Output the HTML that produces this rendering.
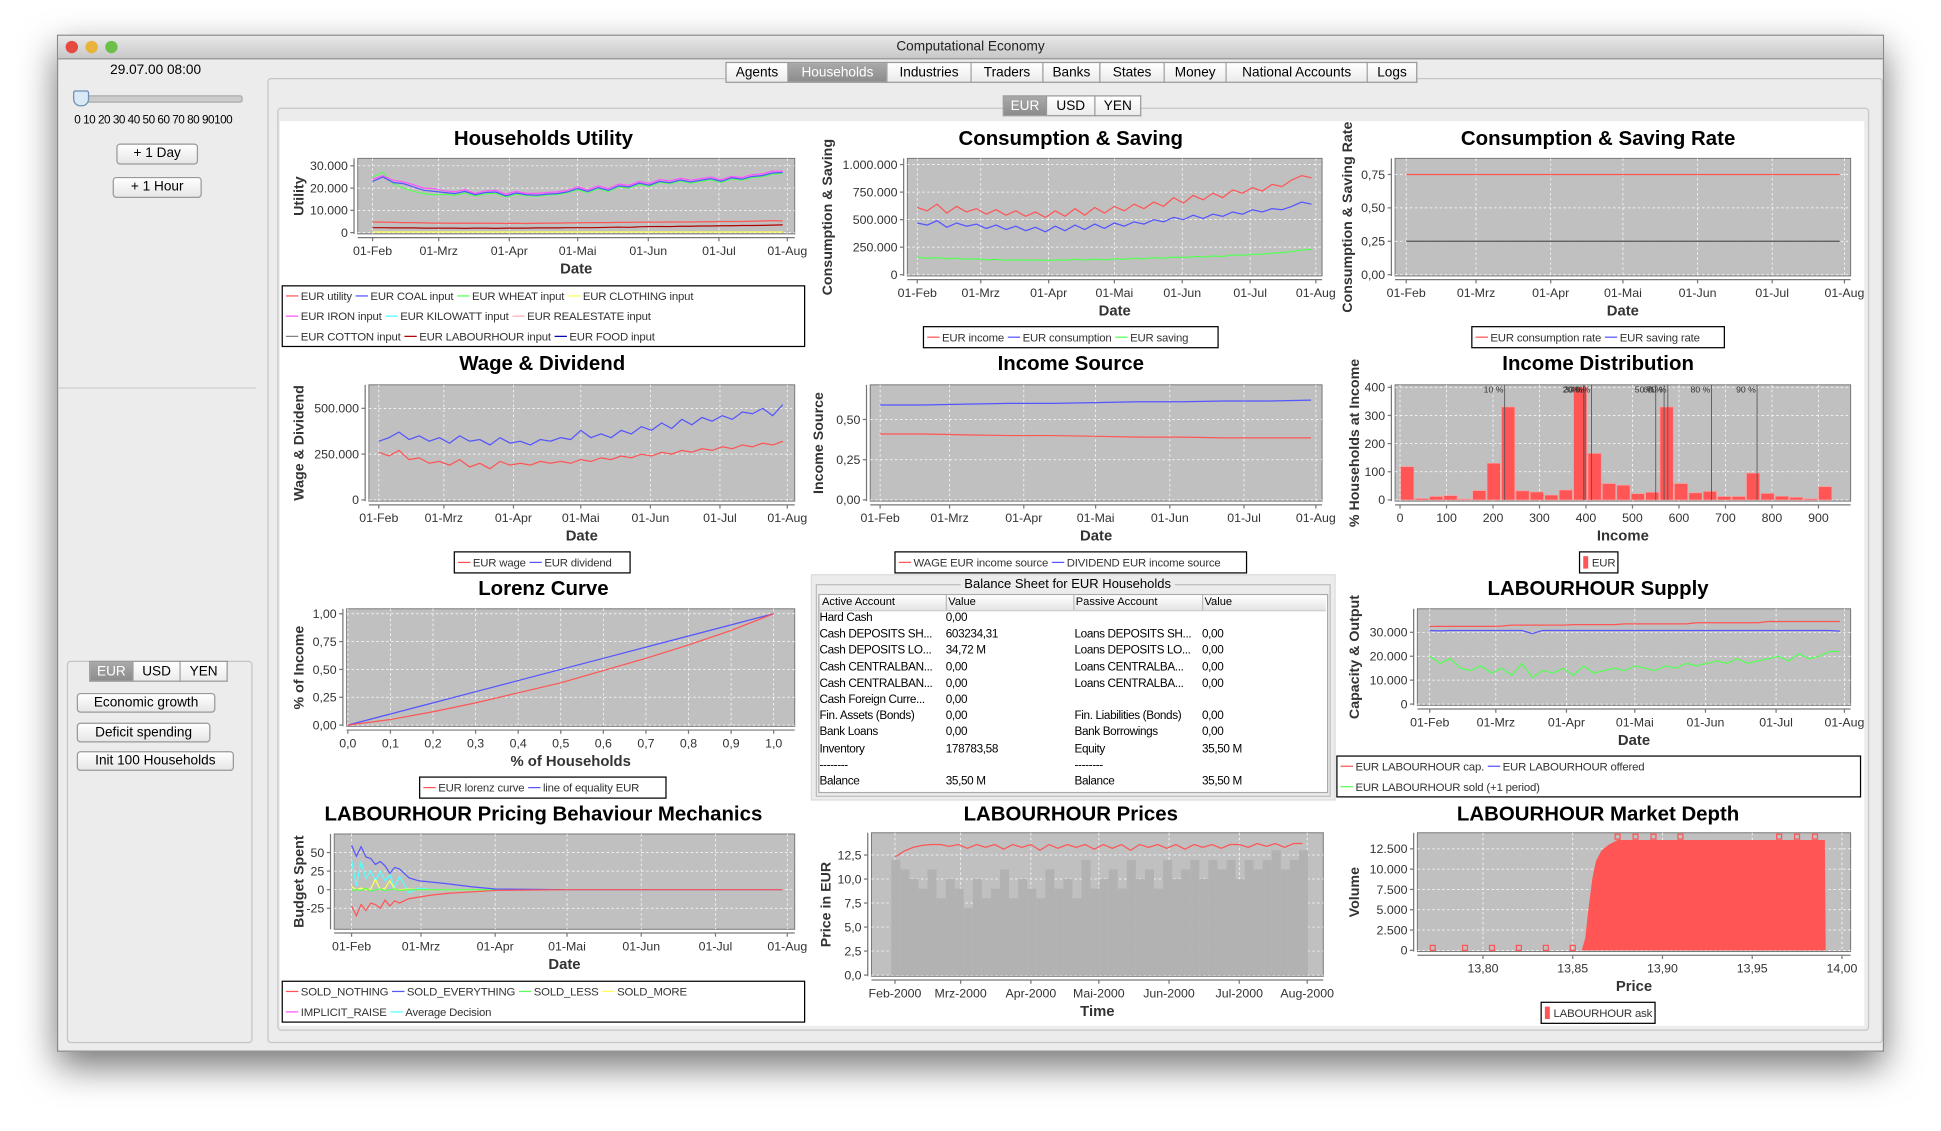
<!DOCTYPE html>
<html><head><meta charset="utf-8">
<style>
html,body{margin:0;padding:0;background:#fff;width:1941px;height:1131px;overflow:hidden;font-family:"Liberation Sans",sans-serif;}
#wrap{position:absolute;left:0;top:0;width:1568px;height:914px;transform:scale(1.23788,1.2374);transform-origin:0 0;}
.abs{position:absolute;}
#win{left:46px;top:28px;width:1476px;height:822px;background:#ececec;box-shadow:0 12px 28px rgba(0,0,0,.55);border:1px solid #8a8a8a;box-sizing:border-box;}
#titlebar{left:0;top:0;width:100%;height:18px;background:linear-gradient(#e8e8e8,#c8c8c8);border-bottom:1px solid #8f8f8f;font-size:11px;text-align:center;line-height:18px;color:#222;}
.dot{position:absolute;top:4px;width:10px;height:10px;border-radius:50%;}
.btn{position:absolute;background:linear-gradient(#fff,#e6e6e6);border:1px solid #999;border-radius:3px;font-size:11px;text-align:center;box-sizing:border-box;}
.tab{position:absolute;top:0;height:17px;border:1px solid #9a9a9a;border-left:none;background:linear-gradient(#fff,#ebebeb);font-size:11px;line-height:16px;text-align:center;box-sizing:border-box;}
.tab.sel{background:linear-gradient(#a9a9a9,#8c8c8c);color:#fff;}
.bs{font-size:9.5px;}
.bs div{position:absolute;white-space:nowrap;}
#bsrows div{overflow:hidden;width:100px;}
</style></head>
<body>
<div id="wrap">
<div id="win" class="abs">
 <div id="titlebar" class="abs">Computational Economy
  <div class="dot" style="left:6px;background:#e5493f"></div>
  <div class="dot" style="left:22px;background:#e8b33a"></div>
  <div class="dot" style="left:38px;background:#6cc04a"></div>
 </div>
 <div class="abs" style="left:42px;top:22px;font-size:11px">29.07.00 08:00</div>
 <div class="abs" style="left:16px;top:48px;width:131px;height:4px;background:#ccc;border:1px solid #aaa;border-radius:2px"></div>
 <div class="abs" style="left:12px;top:44px;width:11px;height:11px;background:#dbe8f5;border:1px solid #6b8fb8;border-radius:2px 2px 6px 6px"></div>
 <div class="abs" style="left:13px;top:63px;font-size:9.5px;letter-spacing:-0.4px">0 10 20 30 40 50 60 70 80 90100</div>
 <div class="btn" style="left:47px;top:87px;width:66px;height:17px;line-height:15px">+ 1 Day</div>
 <div class="btn" style="left:44px;top:114px;width:72px;height:17px;line-height:15px">+ 1 Hour</div>
 <div class="abs" style="left:0;top:284px;width:160px;height:1px;background:#cfcfcf"></div>
 <div class="abs" style="left:7px;top:505px;width:148px;height:307px;border:1px solid #c4c4c4;border-radius:3px"></div>
 <div class="abs" style="left:25px;top:505px;width:112px;height:16px">
  <div class="tab sel" style="left:0;width:36px;border-left:1px solid #9a9a9a">EUR</div>
  <div class="tab" style="left:36px;width:38px">USD</div>
  <div class="tab" style="left:74px;width:38px">YEN</div>
 </div>
 <div class="btn" style="left:15px;top:531px;width:112px;height:16px;line-height:14px">Economic growth</div>
 <div class="btn" style="left:15px;top:555px;width:108px;height:16px;line-height:14px">Deficit spending</div>
 <div class="btn" style="left:15px;top:578px;width:127px;height:16px;line-height:14px">Init 100 Households</div>
 <div class="abs" style="left:169px;top:34px;width:1303px;height:778px;border:1px solid #c6c6c6;border-radius:3px"></div>
 <div class="abs" style="left:539px;top:21px;width:560px;height:17px">
  <div class="tab" style="left:0;width:51px;border-left:1px solid #9a9a9a">Agents</div>
  <div class="tab sel" style="left:51px;width:80px">Households</div>
  <div class="tab" style="left:131px;width:68px">Industries</div>
  <div class="tab" style="left:199px;width:58px">Traders</div>
  <div class="tab" style="left:257px;width:46px">Banks</div>
  <div class="tab" style="left:303px;width:52px">States</div>
  <div class="tab" style="left:355px;width:50px">Money</div>
  <div class="tab" style="left:405px;width:114px">National Accounts</div>
  <div class="tab" style="left:519px;width:40px">Logs</div>
 </div>
 <div class="abs" style="left:177px;top:58px;width:1284px;height:744px;border:1px solid #c6c6c6;border-radius:3px"></div>
 <div class="abs" style="left:763px;top:48px;width:112px;height:16px">
  <div class="tab sel" style="left:0;width:36px;border-left:1px solid #9a9a9a">EUR</div>
  <div class="tab" style="left:36px;width:39px">USD</div>
  <div class="tab" style="left:75px;width:37px">YEN</div>
 </div>
 <div class="abs" style="left:179px;top:69px;width:1280px;height:731px;background:#fff"></div>
 <div class="abs bs" style="left:608px;top:435px;width:422px;height:181px;background:#ececec;border:1px solid #ddd">
  <div style="left:3px;top:7px;width:414px;height:170px;border:1px solid #bdbdbd"></div>
  <div style="left:120px;top:1px;background:#ececec;padding:0 3px;font-size:10.5px">Balance Sheet for EUR Households</div>
  <div style="left:5px;top:15px;width:410px;height:159px;background:#fff;border:1px solid #aaa"></div>
  <div style="left:6px;top:16px;width:409px;height:12px;background:linear-gradient(#fff,#e4e4e4);border-bottom:1px solid #ccc"></div>
  <div style="left:108px;top:16px;width:1px;height:12px;background:#bbb"></div>
  <div style="left:211px;top:16px;width:1px;height:12px;background:#bbb"></div>
  <div style="left:315px;top:16px;width:1px;height:12px;background:#bbb"></div>
  <div style="left:8px;top:16px;font-size:9px">Active Account</div>
  <div style="left:110px;top:16px;font-size:9px">Value</div>
  <div style="left:213px;top:16px;font-size:9px">Passive Account</div>
  <div style="left:317px;top:16px;font-size:9px">Value</div>
  <div id="bsrows"></div>
 </div>
</div>
<svg id="charts" class="abs" style="left:0;top:0" width="1568" height="914" font-family="Liberation Sans, sans-serif"></svg>
</div>
<script>
// ---------- data ----------
const dateTicks=[0,29,60,90,121,152,182];
const dateLabels=['01-Feb','01-Mrz','01-Apr','01-Mai','01-Jun','01-Jul','01-Aug'];
const utilCoal=[23,25,22.5,22,20.5,19,18.5,18,17.5,18.5,17,18,18.2,16.5,17.8,17,16.8,17.3,17.5,18.3,19.8,18.5,20.2,19,21,20.5,22.2,21.3,23,22.4,23.6,22.7,23.5,24.2,23,24.6,24,25.2,25.6,26.8,27];
const utilIron=[24,25.5,23.5,22.8,21.5,20,19.8,18.8,18.3,19.3,17.6,18.7,19,17.3,18.5,17.6,17.6,18,18.3,19,20.6,19.2,21,19.8,21.8,21.2,23,22,23.8,23.2,24.4,23.5,24.3,25,23.8,25.3,24.8,26,26.4,27.6,27.6];
const utilWheat=[25,27,22,20,18.5,17.5,17,17.2,16.8,17.8,16.5,17.4,17.6,16,17.2,16.6,16.4,16.9,17.1,17.9,19.2,18,19.7,18.5,20.5,20,21.6,20.8,22.5,22,23.1,22.2,23,23.7,22.5,24.1,23.5,24.7,25.1,26.3,26.5];
const utilTotal=[4.8,4.7,4.6,4.5,4.5,4.4,4.3,4.3,4.2,4.3,4.2,4.2,4.2,4.1,4.2,4.1,4.2,4.3,4.3,4.4,4.4,4.5,4.5,4.5,4.6,4.6,4.7,4.7,4.7,4.8,4.8,4.8,4.9,4.9,5,5,5,5.1,5.2,5.4,5.2];
const utilLabour=[2.2,2.2,2.1,2.1,2.1,2,2,2,2,1.9,2,2,1.9,2,2,2,2.1,2.1,2.1,2.2,2.2,2.2,2.3,2.4,2.5,2.4,2.6,2.7,2.8,2.7,2.9,2.9,3,3,3.1,3.1,3.2,3.2,3.3,3.4,3.5];
const utilClothing=[0.3,0.3,0.3,0.3,0.3];
const csIncome=[610,580,640,560,620,570,600,550,590,540,580,530,570,520,580,530,600,540,610,560,620,580,640,600,660,620,700,650,720,680,740,700,770,740,790,760,820,800,860,900,880];
const csCons=[470,450,490,430,470,440,460,420,450,410,440,400,430,390,440,400,450,410,460,420,470,440,480,460,500,480,520,500,540,510,550,530,570,550,590,570,600,590,620,660,640];
const csSave=[160,150,155,145,150,140,145,135,140,130,135,130,135,130,135,130,140,135,140,135,145,140,150,145,155,150,160,155,165,160,170,165,180,175,185,185,195,200,210,225,230];
const rateCons=[0.75,0.75,0.75,0.75,0.75];
const rateSave=[0.25,0.25,0.25,0.25,0.25];
const wdDividend=[320,340,370,330,350,320,340,310,350,320,330,300,340,310,320,300,330,320,340,330,380,340,360,340,380,360,400,380,420,390,440,410,450,430,460,440,480,470,500,460,520];
const wdWage=[260,240,270,220,230,200,210,190,220,180,200,170,210,190,200,190,210,200,210,200,220,210,230,220,240,230,250,240,260,250,270,260,280,270,290,280,300,290,310,300,320];
const isWage=[0.41,0.41,0.405,0.40,0.40,0.395,0.39,0.39,0.385,0.385,0.385];
const isDiv=[0.59,0.59,0.595,0.60,0.60,0.605,0.61,0.61,0.615,0.615,0.62];
const idCounts=[118,5,12,15,3,33,130,330,32,28,17,35,400,165,58,52,22,27,330,58,25,30,12,12,95,23,13,9,4,47];
const idBinWidth=31;
const idPct=[225,395,398,412,550,568,576,670,768];
const idPctLabels=['10 %','20 %','30 %','40 %','50 %','60 %','70 %','80 %','90 %'];
const lzX=[0,0.1,0.2,0.3,0.4,0.5,0.6,0.7,0.8,0.9,1];
const lzCurve=[0,0.05,0.12,0.2,0.29,0.38,0.49,0.6,0.72,0.85,1];
const lzEquality=[0,0.1,0.2,0.3,0.4,0.5,0.6,0.7,0.8,0.9,1];
const supCap=[32.5,32.5,32.5,32.5,32.5,32.5,32.5,32.6,33,33,33,33,33,33,33.2,33.2,33.2,33.2,33.2,33.5,33.5,33.5,33.5,33.5,33.5,33.5,34,34,34,34,34,34,34,34.5,34.5,34.5,34.5,34.5,34.5,34.5,34.5];
const supOffered=[30.8,30.6,30.8,30.8,30.8,30.8,30.8,30.8,30.8,30.8,29.5,30.8,30.8,30.8,30.8,30.8,30.8,30.8,30.8,30.8,30.8,30.8,30.8,30.8,30.8,30.8,30.8,30.8,30.8,30.8,30.8,30.8,30.8,30.8,30.8,30.8,30.8,30.8,30.8,30.8,30.5];
const supSold=[20,17,19,15,14,16,13,15,12,17,11,14,13,15,12,16,13,14,15,14,16,15,14,16,15,17,16,17,18,17,19,17,18,19,20,18,21,19,20,22,22];
const pbDays=[0,2,4,6,8,10,12,14,16,18,20,24,28,34,40,50,60,90,120,150,180];
const pbNothing=[-22,-35,-20,-28,-18,-20,-25,-14,-22,-15,-18,-12,-10,-7,-5,-3,-1,0,0,0,0];
const pbEverything=[60,45,58,44,42,34,38,32,22,30,28,16,12,10,8,4,1,0,0,0,0];
const pbLess=[-1,0,-1,2,-2,0,1,-1,0,1,-1,0,0,0,0,0,0,0,0,0,0];
const pbMore=[4,0,2,0,1,14,0,2,12,1,0,1,0,0,0,0,0,0,0,0,0];
const pbAverage=[40,5,38,15,25,12,24,12,20,3,18,-4,2,0,0,0,0,0,0,0,0];
const prDays=[0,4,8,12,16,20,24,28,32,36,40,44,48,52,56,60,64,68,72,76,80,84,88,92,96,100,104,108,112,116,120,124,128,132,136,140,144,148,152,156,160,164,168,172,176,180];
const prPrice=[12.3,12.9,13.3,13.5,13.6,13.6,13.4,13.6,13.2,13.6,13.3,13.6,13.1,13.6,13.3,13.6,13.0,13.6,13.2,13.6,13.3,13.6,13.1,13.6,13.2,13.6,13.0,13.6,13.3,13.6,13.2,13.6,13.1,13.6,13.3,13.6,13.2,13.6,13.6,13.3,13.7,13.4,13.7,13.3,13.7,13.7];
const prLow=[12,11,10,9,11,8,10,9,7,10,8,9,11,8,10,9,8,11,9,10,8,12,9,10,11,9,12,10,11,9,12,10,11,12,10,12,11,12,10,12,11,12,13,11,12,13];
const mdPrice=[13.764,13.855,13.857,13.859,13.861,13.863,13.866,13.87,13.875,13.99,13.9905,13.991];
const mdVolume=[0,0,1500,5500,9000,11000,12300,13000,13600,13600,13600,0];
const mdMarkP=[13.772,13.79,13.805,13.82,13.835,13.85,13.875,13.885,13.895,13.91,13.965,13.975,13.985];
const mdMarkV=[300,300,300,300,300,300,14000,14000,14000,14000,14000,14000,14000];

// ---------- helpers ----------
const NS='http://www.w3.org/2000/svg';
const svg=document.getElementById('charts');
function mk(tag,attrs,parent){const e=document.createElementNS(NS,tag);for(const k in attrs)e.setAttribute(k,attrs[k]);(parent||svg).appendChild(e);return e;}
function txt(parent,x,y,s,size,anchor,weight,name){
  const t=mk('text',{x:x,y:y,'font-size':size,'text-anchor':anchor||'start','font-weight':weight||'normal',fill:'#333'},parent);
  t.textContent=s;
  
  
  return t;}
function axes(o){
  const g=mk('g',{});
  
  
  const sx=v=>o.xr[1]+(v-o.xr[0])/(o.xr[2]-o.xr[0])*(o.xr[3]-o.xr[1]);
  const sy=v=>o.yr[1]+(v-o.yr[0])/(o.yr[2]-o.yr[0])*(o.yr[3]-o.yr[1]);
  const r=mk('rect',{x:o.x0,y:o.y0,width:o.x1-o.x0,height:o.y1-o.y0,fill:'#c0c0c0',stroke:'#777','stroke-width':0.8},g);
  
  
  o.yt.forEach((v,i)=>{const y=sy(v);
    mk('line',{x1:o.x0,x2:o.x1,y1:y,y2:y,stroke:'#fff','stroke-width':0.6,'stroke-dasharray':'2,2'},g);
    mk('line',{x1:o.x0-6,x2:o.x0-3,y1:y,y2:y,stroke:'#777'},g);
    txt(g,o.x0-8,y+3.5,o.ytl[i],10,'end','normal','y-tick-label');});
  mk('line',{x1:o.x0-3,x2:o.x0-3,y1:o.y0,y2:o.y1,stroke:'#777'},g);
  o.xt.forEach((v,i)=>{const x=sx(v);
    mk('line',{x1:x,x2:x,y1:o.y0,y2:o.y1,stroke:'#fff','stroke-width':0.6,'stroke-dasharray':'2,2'},g);
    mk('line',{x1:x,x2:x,y1:o.y1+3,y2:o.y1+6,stroke:'#777'},g);
    txt(g,x,o.y1+17,o.xtl[i],10,'middle','normal','x-tick-label');});
  mk('line',{x1:o.x0,x2:o.x1,y1:o.y1+3,y2:o.y1+3,stroke:'#777'},g);
  txt(g,o.tx,o.ty,o.title,16.5,'middle','bold','chart-title').setAttribute('fill','#000');
  txt(g,(o.x0+o.x1)/2,o.y1+32,o.xlab,12,'middle','bold','x-axis-title');
  const yl=txt(g,0,0,o.ylab,11.5,'middle','bold','y-axis-title');
  yl.setAttribute('transform','translate('+o.lx+','+((o.y0+o.y1)/2)+') rotate(-90)');
  return {g,sx,sy};}
function series(ax,xs,ys,color,name){
  const pts=ys.map((v,i)=>ax.sx(xs[i]).toFixed(1)+','+ax.sy(v).toFixed(1)).join(' ');
  const p=mk('polyline',{points:pts,fill:'none',stroke:color,'stroke-width':1},ax.g);
  
  
  return p;}
function spread(n,max){const a=[];for(let i=0;i<n;i++)a.push(i*max/(n-1));return a;}
function legend(x,y,w,h,rows,name,square){
  const g=mk('g',{});
  
  
  mk('rect',{x:x,y:y,width:w,height:h,fill:'#fff',stroke:'#000','stroke-width':1},g);
  rows.forEach((row,ri)=>{let cx=x+3;const cy=y+(h/rows.length)*(ri+0.5);
    row.forEach(it=>{
      if(square){mk('rect',{x:cx,y:cy-5,width:4,height:10,fill:it[1]},g);}
      else{mk('line',{x1:cx,x2:cx+10,y1:cy,y2:cy,stroke:it[1],'stroke-width':1},g);}
      const t=txt(g,cx+(square?7:12),cy+3.3,it[0],9.2,'start','normal','legend-entry');
      t.setAttribute('letter-spacing','-0.15');
      cx+=(square?7:12)+t.getComputedTextLength()+3;});});
  return g;}
const C={r:'#ff5555',b:'#5555ff',g:'#55ff55',y:'#ffff55',m:'#ff55ff',c:'#55ffff',p:'#ffafaf',gr:'#808080',dr:'#b00000',db:'#0000b0'};

// 1 Households Utility
let a=axes({name:'households-utility-chart',x0:289,x1:642,y0:128,y1:189,xr:[0,301,182,636],yr:[0,188,30,134],
  yt:[0,10,20,30],ytl:['0','10.000','20.000','30.000'],xt:dateTicks,xtl:dateLabels,title:'Households Utility',tx:439,ty:117,xlab:'Date',ylab:'Utility',lx:245});
series(a,spread(5,180),utilClothing,C.y,'eur-clothing-line');
series(a,spread(41,180),utilLabour,C.dr,'eur-labourhour-line');
series(a,spread(41,180),utilTotal,C.r,'eur-utility-line');
series(a,spread(41,180),utilWheat,C.g,'eur-wheat-line');
series(a,spread(41,180),utilIron,C.m,'eur-iron-line');
series(a,spread(41,180),utilCoal,C.b,'eur-coal-line');
legend(228,231,422,49,[[['EUR utility',C.r],['EUR COAL input',C.b],['EUR WHEAT input',C.g],['EUR CLOTHING input',C.y]],[['EUR IRON input',C.m],['EUR KILOWATT input',C.c],['EUR REALESTATE input',C.p]],[['EUR COTTON input',C.gr],['EUR LABOURHOUR input',C.dr],['EUR FOOD input',C.db]]],'utility-legend');

// 2 Consumption & Saving
a=axes({name:'consumption-saving-chart',x0:733,x1:1068,y0:128,y1:223,xr:[0,741,182,1063],yr:[0,222,1000,133],
  yt:[0,250,500,750,1000],ytl:['0','250.000','500.000','750.000','1.000.000'],xt:dateTicks,xtl:dateLabels,title:'Consumption & Saving',tx:865,ty:117,xlab:'Date',ylab:'Consumption & Saving',lx:672});
series(a,spread(41,180),csSave,C.g,'eur-saving-line');
series(a,spread(41,180),csCons,C.b,'eur-consumption-line');
series(a,spread(41,180),csIncome,C.r,'eur-income-line');
legend(746,264,238,17,[[['EUR income',C.r],['EUR consumption',C.b],['EUR saving',C.g]]],'consumption-saving-legend');

// 3 Rates
a=axes({name:'consumption-saving-rate-chart',x0:1127,x1:1495,y0:128,y1:223,xr:[0,1136,182,1490],yr:[0,222,0.75,141],
  yt:[0,0.25,0.5,0.75],ytl:['0,00','0,25','0,50','0,75'],xt:dateTicks,xtl:dateLabels,title:'Consumption & Saving Rate',tx:1291,ty:117,xlab:'Date',ylab:'Consumption & Saving Rate',lx:1092});
series(a,spread(5,180),rateSave,'#555','eur-saving-rate-line');
series(a,spread(5,180),rateCons,C.r,'eur-consumption-rate-line');
legend(1189,264,204,17,[[['EUR consumption rate',C.r],['EUR saving rate',C.b]]],'rate-legend');

// 4 Wage & Dividend
a=axes({name:'wage-dividend-chart',x0:298,x1:642,y0:311,y1:405,xr:[0,306,182,636],yr:[0,404,500,330],
  yt:[0,250,500],ytl:['0','250.000','500.000'],xt:dateTicks,xtl:dateLabels,title:'Wage & Dividend',tx:438,ty:299,xlab:'Date',ylab:'Wage & Dividend',lx:245});
series(a,spread(41,180),wdWage,C.r,'eur-wage-line');
series(a,spread(41,180),wdDividend,C.b,'eur-dividend-line');
legend(367,446,142,17,[[['EUR wage',C.r],['EUR dividend',C.b]]],'wage-dividend-legend');

// 5 Income Source
a=axes({name:'income-source-chart',x0:703,x1:1068,y0:311,y1:405,xr:[0,711,182,1063],yr:[0,404,0.5,339],
  yt:[0,0.25,0.5],ytl:['0,00','0,25','0,50'],xt:dateTicks,xtl:dateLabels,title:'Income Source',tx:865,ty:299,xlab:'Date',ylab:'Income Source',lx:665});
series(a,spread(11,180),isWage,C.r,'wage-income-source-line');
series(a,spread(11,180),isDiv,C.b,'dividend-income-source-line');
legend(723,446,284,17,[[['WAGE EUR income source',C.r],['DIVIDEND EUR income source',C.b]]],'income-source-legend');

// 6 Income Distribution
a=axes({name:'income-distribution-chart',x0:1127,x1:1495,y0:311,y1:405,xr:[0,1131,900,1469],yr:[0,404,400,313],
  yt:[0,100,200,300,400],ytl:['0','100','200','300','400'],xt:[0,100,200,300,400,500,600,700,800,900],xtl:['0','100','200','300','400','500','600','700','800','900'],title:'Income Distribution',tx:1291,ty:299,xlab:'Income',ylab:'% Households at Income',lx:1098});
idCounts.forEach((v,i)=>{const x0=a.sx(i*idBinWidth),x1=a.sx((i+1)*idBinWidth);
  const b=mk('rect',{x:x0+0.5,y:a.sy(v),width:x1-x0-1,height:a.sy(0)-a.sy(v),fill:'#ff5555',stroke:'#ff9a9a','stroke-width':0.5},a.g);
  
  });
idPct.forEach((v,i)=>{const x=a.sx(v);
  const l=mk('line',{x1:x,x2:x,y1:311,y2:404,stroke:'#555','stroke-width':0.7},a.g);
  
  
  txt(a.g,x-1,317,idPctLabels[i],7,'end','normal','percentile-label');});
legend(1276,446,31,17,[[['EUR',C.r]]],'income-distribution-legend',true);

// 7 Lorenz
a=axes({name:'lorenz-curve-chart',x0:280,x1:642,y0:492,y1:587,xr:[0,281,1,625],yr:[0,586,1,496],
  yt:[0,0.25,0.5,0.75,1],ytl:['0,00','0,25','0,50','0,75','1,00'],xt:[0,0.1,0.2,0.3,0.4,0.5,0.6,0.7,0.8,0.9,1],xtl:['0,0','0,1','0,2','0,3','0,4','0,5','0,6','0,7','0,8','0,9','1,0'],title:'Lorenz Curve',tx:439,ty:481,xlab:'% of Households',ylab:'% of Income',lx:245});
series(a,lzX,lzEquality,C.b,'line-of-equality');
series(a,lzX,lzCurve,C.r,'eur-lorenz-curve');
legend(339,628,199,17,[[['EUR lorenz curve',C.r],['line of equality EUR',C.b]]],'lorenz-legend');

// 8 LABOURHOUR Supply
a=axes({name:'labourhour-supply-chart',x0:1145,x1:1495,y0:492,y1:570,xr:[0,1155,182,1490],yr:[0,569,30,511],
  yt:[0,10,20,30],ytl:['0','10.000','20.000','30.000'],xt:dateTicks,xtl:dateLabels,title:'LABOURHOUR Supply',tx:1291,ty:481,xlab:'Date',ylab:'Capacity & Output',lx:1098});
series(a,spread(41,180),supSold,C.g,'labourhour-sold-line');
series(a,spread(41,180),supOffered,C.b,'labourhour-offered-line');
series(a,spread(41,180),supCap,C.r,'labourhour-capacity-line');
legend(1080,611,423,33,[[['EUR LABOURHOUR cap.',C.r],['EUR LABOURHOUR offered',C.b]],[['EUR LABOURHOUR sold (+1 period)',C.g]]],'supply-legend');

// 9 Pricing Behaviour
a=axes({name:'pricing-behaviour-chart',x0:270,x1:642,y0:674,y1:751,xr:[0,284,182,636],yr:[0,719,50,689],
  yt:[-25,0,25,50],ytl:['-25','0','25','50'],xt:dateTicks,xtl:dateLabels,title:'LABOURHOUR Pricing Behaviour Mechanics',tx:439,ty:663,xlab:'Date',ylab:'Budget Spent',lx:245});
series(a,pbDays,pbAverage,C.c,'average-decision-line');
series(a,pbDays,pbMore,C.y,'sold-more-line');
series(a,pbDays,pbLess,C.g,'sold-less-line');
series(a,pbDays,pbEverything,C.b,'sold-everything-line');
series(a,pbDays,pbNothing,C.r,'sold-nothing-line');
legend(228,793,422,33,[[['SOLD_NOTHING',C.r],['SOLD_EVERYTHING',C.b],['SOLD_LESS',C.g],['SOLD_MORE',C.y]],[['IMPLICIT_RAISE',C.m],['Average Decision',C.c]]],'pricing-legend');

// 10 Prices
a=axes({name:'labourhour-prices-chart',x0:704,x1:1069,y0:673,y1:789,xr:[0,723,182,1056],yr:[0,788,12.5,691],
  yt:[0,2.5,5,7.5,10,12.5],ytl:['0,0','2,5','5,0','7,5','10,0','12,5'],xt:dateTicks,xtl:['Feb-2000','Mrz-2000','Apr-2000','Mai-2000','Jun-2000','Jul-2000','Aug-2000'],title:'LABOURHOUR Prices',tx:865,ty:663,xlab:'Time',ylab:'Price in EUR',lx:671});
prDays.forEach((d,i)=>{const x=a.sx(d);
  const b=mk('rect',{x:x-3,y:a.sy(prLow[i]),width:7.3,height:a.sy(0)-a.sy(prLow[i]),fill:'#b2b2b2'},a.g);
  
  });
series(a,prDays,prPrice,C.r,'labourhour-price-line');

// 11 Market Depth
a=axes({name:'market-depth-chart',x0:1145,x1:1495,y0:673,y1:769,xr:[13.8,1198,14,1488],yr:[0,768,12500,686],
  yt:[0,2500,5000,7500,10000,12500],ytl:['0','2.500','5.000','7.500','10.000','12.500'],xt:[13.8,13.85,13.9,13.95,14],xtl:['13,80','13,85','13,90','13,95','14,00'],title:'LABOURHOUR Market Depth',tx:1291,ty:663,xlab:'Price',ylab:'Volume',lx:1098});
const ap=mdPrice.map((p,i)=>a.sx(p).toFixed(1)+','+a.sy(mdVolume[i]).toFixed(1)).join(' ');
const area=mk('polygon',{points:ap,fill:'#ff5555'},a.g);


mdMarkP.forEach((p,i)=>{const m=mk('rect',{x:a.sx(p)-2,y:a.sy(mdMarkV[i])-2,width:4,height:4,fill:'none',stroke:'#ff5555','stroke-width':1},a.g);
  
  });
legend(1245,810,92,17,[[['LABOURHOUR ask',C.r]]],'market-depth-legend',true);

// balance sheet rows
const bsRows=[['Hard Cash','0,00','',''],['Cash DEPOSITS SH...','603234,31','Loans DEPOSITS SH...','0,00'],['Cash DEPOSITS LO...','34,72 M','Loans DEPOSITS LO...','0,00'],['Cash CENTRALBAN...','0,00','Loans CENTRALBA...','0,00'],['Cash CENTRALBAN...','0,00','Loans CENTRALBA...','0,00'],['Cash Foreign Curre...','0,00','',''],['Fin. Assets (Bonds)','0,00','Fin. Liabilities (Bonds)','0,00'],['Bank Loans','0,00','Bank Borrowings','0,00'],['Inventory','178783,58','Equity','35,50 M'],['--------','','--------',''],['Balance','35,50 M','Balance','35,50 M']];
const host=document.getElementById('bsrows');
const colX=[6,108,212,315];
bsRows.forEach((r,ri)=>{r.forEach((c,ci)=>{if(!c)return;
  const d=document.createElement('div');
  d.textContent=c;
  d.style.left=colX[ci]+'px';d.style.top=(29+ri*13.2)+'px';
  d.style.letterSpacing='-0.3px';
  
  
  host.appendChild(d);});});
</script>
</body></html>
